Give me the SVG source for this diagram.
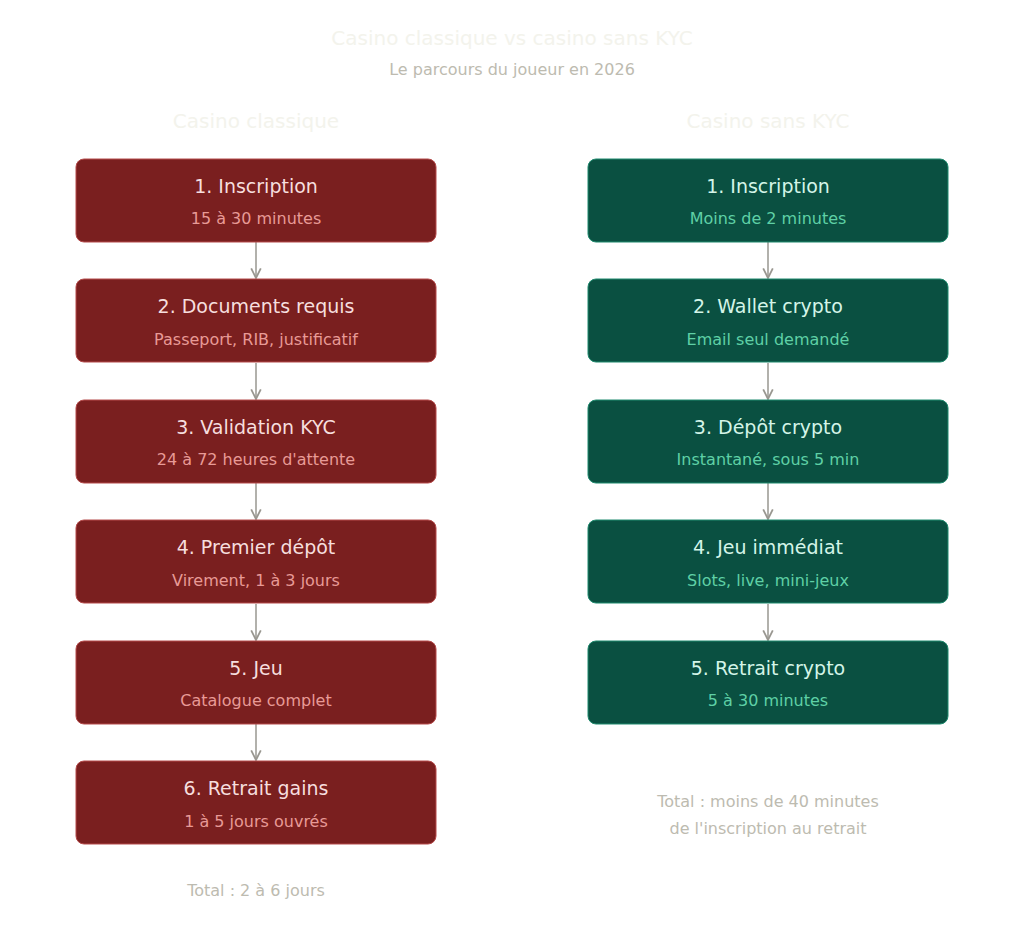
<svg xmlns="http://www.w3.org/2000/svg" width="1024" height="934" viewBox="0 0 1024 934">
<style>
text{font-family:"DejaVu Sans",sans-serif;text-anchor:middle}
.h{font-size:20px;fill:#f3f3ec}
.s{font-size:16px;fill:#bdbbb0}
.r rect{fill:#7a1f1f;stroke:#b54a4a;stroke-width:1}
.g rect{fill:#0a5041;stroke:#1f8a6e;stroke-width:1}
.t{font-size:19px}
.r .t{fill:#f6dede}.r .d{fill:#e89a96}
.g .t{fill:#d4f5e8}.g .d{fill:#5fd0a6}
.d{font-size:16px}
.c line{stroke:#999790;stroke-width:1.5;marker-end:url(#a)}
</style>
<defs><marker id="a" viewBox="0 0 10 10" refX="9" refY="5" markerWidth="8" markerHeight="8" orient="auto"><path d="M1 1L9 5L1 9" fill="none" stroke="#999790" stroke-width="1.5"/></marker></defs>
<rect width="1024" height="934" fill="#fff"/>
<text class="h" x="512" y="45">Casino classique vs casino sans KYC</text>
<text class="s" x="512" y="75">Le parcours du joueur en 2026</text>
<text class="h" x="256" y="128">Casino classique</text>
<text class="h" x="768" y="128">Casino sans KYC</text>
<g class="c">
<line x1="256" y1="242" x2="256" y2="278"/><line x1="256" y1="363" x2="256" y2="399"/><line x1="256" y1="483" x2="256" y2="519"/><line x1="256" y1="604" x2="256" y2="640"/><line x1="256" y1="724" x2="256" y2="760"/>
<line x1="768" y1="242" x2="768" y2="278"/><line x1="768" y1="363" x2="768" y2="399"/><line x1="768" y1="483" x2="768" y2="519"/><line x1="768" y1="604" x2="768" y2="640"/>
</g>
<g id="l1" class="r"><rect x="76" y="159" width="360" height="83" rx="8"/><text class="t" x="256" y="193">1. Inscription</text><text class="d" x="256" y="224">15 à 30 minutes</text></g>
<g id="l2" class="r"><rect x="76" y="279" width="360" height="83" rx="8"/><text class="t" x="256" y="313">2. Documents requis</text><text class="d" x="256" y="345">Passeport, RIB, justificatif</text></g>
<g id="l3" class="r"><rect x="76" y="400" width="360" height="83" rx="8"/><text class="t" x="256" y="434">3. Validation KYC</text><text class="d" x="256" y="465">24 à 72 heures d'attente</text></g>
<g id="l4" class="r"><rect x="76" y="520" width="360" height="83" rx="8"/><text class="t" x="256" y="554">4. Premier dépôt</text><text class="d" x="256" y="586">Virement, 1 à 3 jours</text></g>
<g id="l5" class="r"><rect x="76" y="641" width="360" height="83" rx="8"/><text class="t" x="256" y="675">5. Jeu</text><text class="d" x="256" y="706">Catalogue complet</text></g>
<g id="l6" class="r"><rect x="76" y="761" width="360" height="83" rx="8"/><text class="t" x="256" y="795">6. Retrait gains</text><text class="d" x="256" y="827">1 à 5 jours ouvrés</text></g>
<g id="r1" class="g"><rect x="588" y="159" width="360" height="83" rx="8"/><text class="t" x="768" y="193">1. Inscription</text><text class="d" x="768" y="224">Moins de 2 minutes</text></g>
<g id="r2" class="g"><rect x="588" y="279" width="360" height="83" rx="8"/><text class="t" x="768" y="313">2. Wallet crypto</text><text class="d" x="768" y="345">Email seul demandé</text></g>
<g id="r3" class="g"><rect x="588" y="400" width="360" height="83" rx="8"/><text class="t" x="768" y="434">3. Dépôt crypto</text><text class="d" x="768" y="465">Instantané, sous 5 min</text></g>
<g id="r4" class="g"><rect x="588" y="520" width="360" height="83" rx="8"/><text class="t" x="768" y="554">4. Jeu immédiat</text><text class="d" x="768" y="586">Slots, live, mini-jeux</text></g>
<g id="r5" class="g"><rect x="588" y="641" width="360" height="83" rx="8"/><text class="t" x="768" y="675">5. Retrait crypto</text><text class="d" x="768" y="706">5 à 30 minutes</text></g>
<text class="s" x="256" y="896">Total : 2 à 6 jours</text>
<text class="s" x="768" y="807">Total : moins de 40 minutes</text>
<text class="s" x="768" y="834">de l'inscription au retrait</text>
</svg>
